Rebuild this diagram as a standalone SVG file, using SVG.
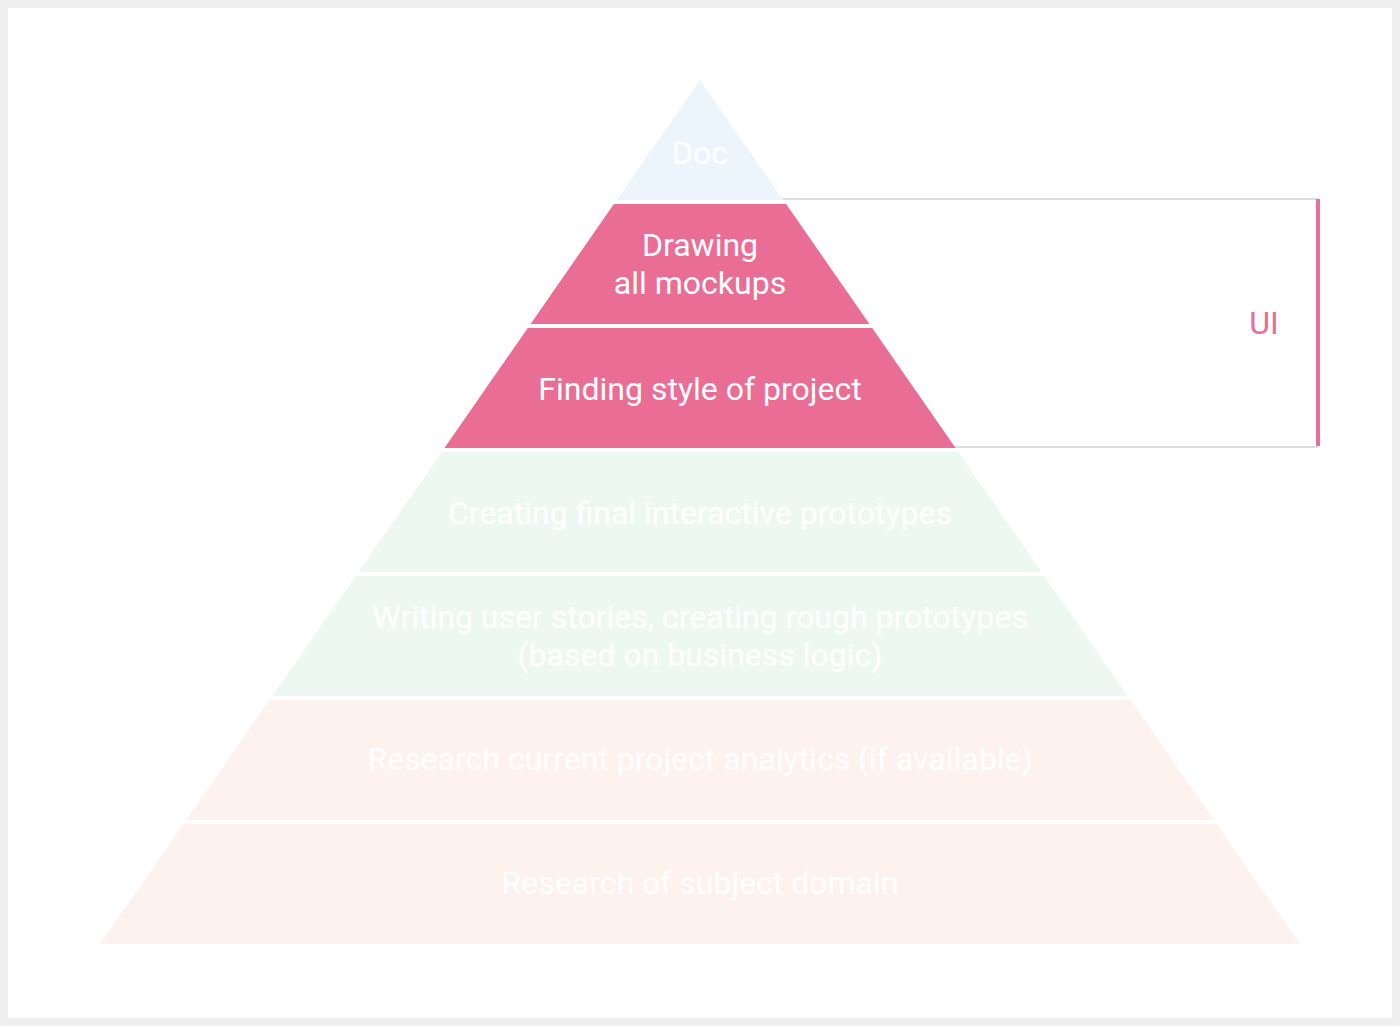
<svg xmlns="http://www.w3.org/2000/svg" width="1400" height="1026" viewBox="0 0 1400 1026">
  <style>
    .lbl { font-family: Roboto, "Liberation Sans", sans-serif; font-size: 32px; fill: #ffffff; text-anchor: middle; dominant-baseline: central; }
    .ui { font-family: Roboto, "Liberation Sans", sans-serif; font-size: 32px; fill: #e96d94; text-anchor: middle; dominant-baseline: central; }
    .blue { fill: #ecf5fb; }
    .pink { fill: #e96d94; }
    .green { fill: #eef8f3; }
    .peach { fill: #fdf2ee; }
    .guide { stroke: #dddddd; stroke-width: 2; fill: none; }
  </style>
  <rect x="0" y="0" width="1400" height="1026" fill="#efefef"/>
  <rect x="8" y="8" width="1384" height="1010" fill="#ffffff"/>

  <g id="connectors">
    <line class="guide" x1="700" y1="199" x2="1318" y2="199"/>
    <line class="guide" x1="700" y1="447" x2="1318" y2="447"/>
    <rect x="1316" y="199" width="4" height="247" fill="#e96d94"/>
  </g>

  <g id="doc">
    <polygon class="blue" points="700,80 783.33,200 616.67,200"/>
    <text class="lbl" x="700" y="153">Doc</text>
  </g>
  <g id="drawing">
    <polygon class="pink" points="613.89,204 786.11,204 869.44,324 530.56,324"/>
    <text class="lbl" x="700" y="245">Drawing</text>
    <text class="lbl" x="700" y="283">all mockups</text>
  </g>
  <g id="finding">
    <polygon class="pink" points="527.78,328 872.22,328 955.56,448 444.44,448"/>
    <text class="lbl" x="700" y="389">Finding style of project</text>
  </g>
  <g id="creating">
    <polygon class="green" points="441.67,452 958.33,452 1041.67,572 358.33,572"/>
    <text class="lbl" x="700" y="513">Creating final interactive prototypes</text>
  </g>
  <g id="writing">
    <polygon class="green" points="355.56,576 1044.44,576 1127.78,696 272.22,696"/>
    <text class="lbl" x="700" y="617">Writing user stories, creating rough prototypes</text>
    <text class="lbl" x="700" y="655">(based on business logic)</text>
  </g>
  <g id="analytics">
    <polygon class="peach" points="269.44,700 1130.56,700 1213.89,820 186.11,820"/>
    <text class="lbl" x="700" y="759">Research current project analytics (if available)</text>
  </g>
  <g id="domain">
    <polygon class="peach" points="183.33,824 1216.67,824 1300,944 100,944"/>
    <text class="lbl" x="700" y="883">Research of subject domain</text>
  </g>
  <g id="ui-label">
    <text class="ui" x="1264" y="323">UI</text>
  </g>
</svg>
